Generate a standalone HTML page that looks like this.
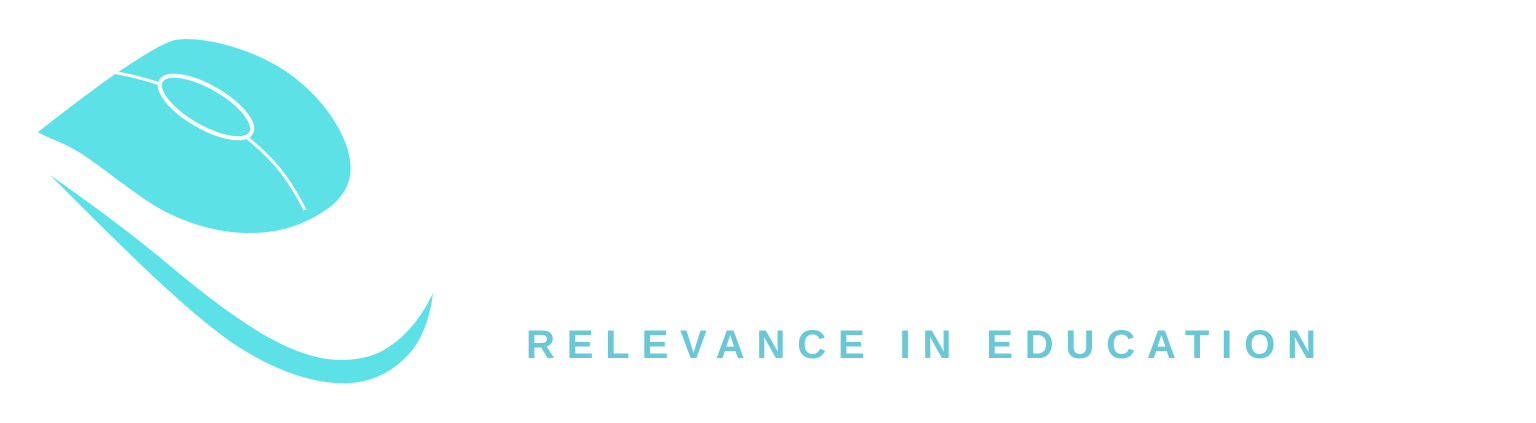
<!DOCTYPE html>
<html><head><meta charset="utf-8"><style>
html,body{margin:0;padding:0;background:#fff;width:1536px;height:423px;overflow:hidden}
</style></head><body>
<svg width="1536" height="423" viewBox="0 0 1536 423">
<g>
<path fill="#5ce1e6" d="M118,72 C140,58 160,44 175,40 C200,36 240,46 270,62 C310,82 345,125 350,160 C353,180 345,195 330,207 C305,225 280,233 250,233 C210,233 170,218 140,196 C110,175 90,158 75,150 C62,142 45,137 38,132 C65,111 95,88 118,72 Z"/>
<path fill="none" stroke="#fff" stroke-width="3" d="M112,72 C130,75 145,79 160,84"/>
<ellipse cx="206" cy="107" rx="52" ry="20" transform="rotate(30 206 107)" fill="#5ce1e6" stroke="#fff" stroke-width="4"/>
<path fill="none" stroke="#fff" stroke-width="3" d="M245,136 C265,152 285,170 305,210"/>
<path fill="#5ce1e6" d="M50,175 C90,203 135,236 175,270 C215,303 255,333 290,348 C320,361 345,363 370,356 C395,348 418,325 433,293 C430,320 420,343 408,355 C388,376 365,385 335,383 C295,380 250,358 215,330 C170,295 120,245 50,175 Z"/>
</g>
<text x="526" y="358" font-family="'Liberation Sans',sans-serif" font-weight="bold" font-size="40" fill="#6ac8d6" textLength="790" lengthAdjust="spacing">RELEVANCE IN EDUCATION</text>
</svg>
</body></html>
